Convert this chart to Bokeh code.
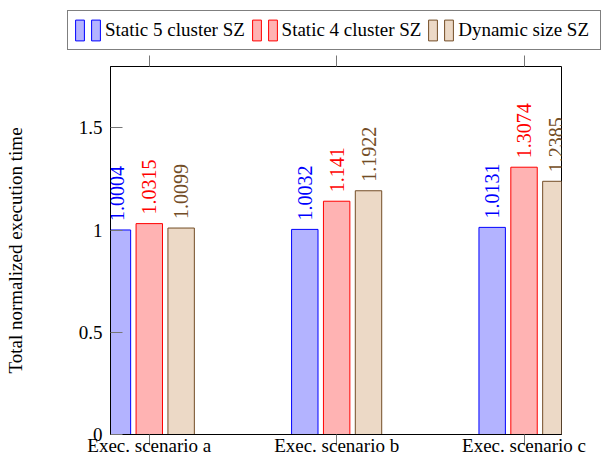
import math
from bokeh.plotting import figure
from bokeh.layouts import column, row
from bokeh.models import (Range1d, FixedTicker, LinearAxis, Legend, LegendItem,
                          ColumnDataSource)
from bokeh.core.properties import value
from bokeh.embed import file_html
from bokeh.resources import INLINE

# ---- data ----
scenarios = ["Exec. scenario a", "Exec. scenario b", "Exec. scenario c"]
series_names = ["Static 5 cluster SZ", "Static 4 cluster SZ", "Dynamic size SZ"]
static5 = [1.0004, 1.0032, 1.0131]
static4 = [1.0315, 1.141, 1.3074]
dynamic = [1.0099, 1.1922, 1.2385]
y_ticks = [0, 0.5, 1, 1.5]
y_tick_labels = ["0", "0.5", "1", "1.5"]

series_values = [static5, static4, dynamic]
line_colors = ["#0000ff", "#ff0000", "#734d26"]
fill_colors = ["#b3b3ff", "#ffb3b3", "#ecd9c6"]
offsets = [-0.17, 0.0, 0.17]
bar_width = 0.141
FONT = "Liberation Serif"
TICK = "#777777"

group_x = list(range(len(scenarios)))
sources = [ColumnDataSource(dict(x=[g + off for g in group_x], top=vals,
                                 label=[str(v) for v in vals]))
           for vals, off in zip(series_values, offsets)]

# ---- legend strip (own small figure above the chart; its ranges show no bar) ----
leg = figure(width=605, height=55, output_backend="svg", toolbar_location=None,
             x_range=Range1d(-0.207, 2.2), y_range=Range1d(10, 11),
             x_axis_location=None, y_axis_location=None,
             min_border=0, outline_line_color=None)
leg.xgrid.visible = False
leg.ygrid.visible = False

items = []
for name, src, lc, fc in zip(series_names, sources, line_colors, fill_colors):
    r = leg.vbar(x="x", top="top", bottom=0, width=bar_width, source=src,
                 fill_color=fc, line_color=lc, line_width=1)
    items.append(LegendItem(label=value(""), renderers=[r]))
    items.append(LegendItem(label=value(name + " "), renderers=[r]))

legend = Legend(items=items, orientation="horizontal", location=(67, 5),
                glyph_width=11, glyph_height=26, label_width=0, label_height=20,
                label_standoff=4, spacing=1, padding=6, margin=0,
                border_line_color="black", border_line_width=1,
                background_fill_color="white", background_fill_alpha=1,
                label_text_font=FONT, label_text_font_size="19px",
                label_text_color="black")
leg.add_layout(legend, "center")

# ---- main chart ----
p = figure(width=605, height=403, output_backend="svg", toolbar_location=None,
           x_range=Range1d(-0.207, 2.2), y_range=Range1d(0, 1.8),
           x_axis_location=None, y_axis_location=None,
           min_border_left=110, min_border_top=11, min_border_right=44,
           min_border_bottom=21)
p.xgrid.visible = False
p.ygrid.visible = False
p.outline_line_color = "black"
p.outline_line_width = 1
p.background_fill_color = "white"
p.border_fill_color = "white"

for src, lc, fc in zip(sources, line_colors, fill_colors):
    p.vbar(x="x", top="top", bottom=0, width=bar_width, source=src,
           fill_color=fc, line_color=lc, line_width=1)
    p.text(x="x", y="top", text="label", source=src, angle=math.pi / 2,
           text_align="left", text_baseline="middle", y_offset=-9,
           text_color=lc, text_font=value(FONT), text_font_size="20px")

xaxis = LinearAxis(ticker=FixedTicker(ticks=group_x),
                   major_label_overrides={g: s for g, s in zip(group_x, scenarios)})
xaxis.axis_line_color = "black"
xaxis.major_tick_out = 10
xaxis.major_tick_in = 0
xaxis.major_tick_line_color = TICK
xaxis.minor_tick_line_color = None
xaxis.major_label_standoff = -10
xaxis.major_label_text_font = FONT
xaxis.major_label_text_font_size = "19px"
xaxis.major_label_text_color = "black"
p.add_layout(xaxis, "below")

top_axis = LinearAxis(ticker=FixedTicker(ticks=group_x),
                      major_label_overrides={g: "" for g in group_x})
top_axis.axis_line_color = None
top_axis.major_tick_out = 11
top_axis.major_tick_in = 0
top_axis.major_label_standoff = 0
top_axis.major_tick_line_color = TICK
top_axis.minor_tick_line_color = None
p.add_layout(top_axis, "above")

yaxis = LinearAxis(ticker=FixedTicker(ticks=y_ticks),
                   major_label_overrides={t: s for t, s in zip(y_ticks, y_tick_labels)})
yaxis.axis_line_color = "black"
yaxis.major_tick_in = 12
yaxis.major_tick_out = 0
yaxis.major_tick_line_color = TICK
yaxis.minor_tick_line_color = None
yaxis.major_label_standoff = 8
yaxis.major_label_text_font = FONT
yaxis.major_label_text_font_size = "19px"
yaxis.major_label_text_color = "black"
yaxis.axis_label = "Total normalized execution time"
yaxis.axis_label_text_font = FONT
yaxis.axis_label_text_font_size = "19px"
yaxis.axis_label_text_font_style = "normal"
yaxis.axis_label_text_color = "black"
yaxis.axis_label_standoff = 50
p.add_layout(yaxis, "left")

layout = column(row(leg), p, spacing=0)
open("out.html", "w").write(file_html(layout, INLINE))
